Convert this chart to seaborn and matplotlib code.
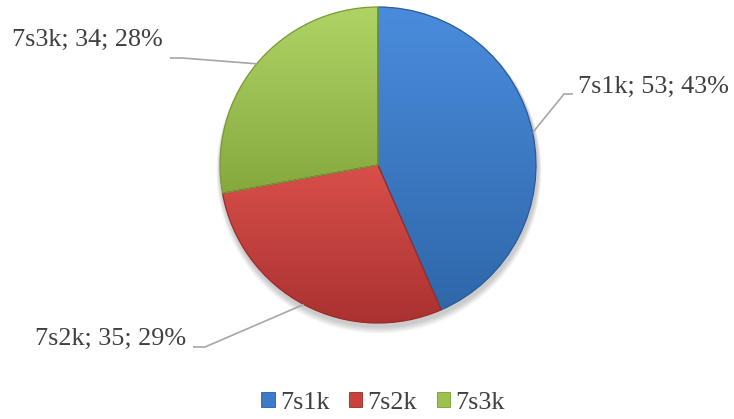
import numpy as np
import matplotlib
matplotlib.use("Agg")
import matplotlib.pyplot as plt
import matplotlib.colors as mcolors
from matplotlib.patches import Patch, Wedge
import seaborn as sns

# data
categories = ["7s1k", "7s2k", "7s3k"]
counts = [53, 35, 34]
percent_labels = ["43%", "29%", "28%"]

# styling
base_colors = ["#3C7BC8", "#CC403D", "#9CC14F"]
top_colors = ["#4A8CDC", "#D84F4B", "#AFD465"]
bottom_colors = ["#2F67AA", "#AA3230", "#86A93E"]
edge_colors = ["#2A5C99", "#9A2C2A", "#7A9A38"]

sns.set_style("white")
plt.rcParams["font.family"] = ["Liberation Serif", "DejaVu Serif"]

W, H = 734, 419
fig = plt.figure(figsize=(W / 100, H / 100), dpi=100)
ax = fig.add_axes([0, 0, 1, 1])

# pie geometry in pixel coords (y measured from the bottom)
cx, cy, r = 378, H - 165, 158

palette = sns.color_palette(base_colors)
wedges, _ = ax.pie(counts, colors=palette, startangle=90, counterclock=False,
                   center=(cx, cy), radius=r,
                   wedgeprops=dict(linewidth=0, zorder=1))
ax.set_aspect("equal")
ax.axis("off")

# soft shadow under the pie
for k in range(6):
    sh = plt.Circle((cx + 1, cy - 3 - k * 0.6), r + 1.5 + k * 0.6, color="black",
                    alpha=0.035, zorder=0, lw=0)
    ax.add_patch(sh)

# vertical gradient fill for each slice, clipped to the wedge
for w, top, bot, ec in zip(wedges, top_colors, bottom_colors, edge_colors):
    a = np.deg2rad(np.linspace(w.theta1, w.theta2, 200))
    xs = np.r_[cx, cx + r * np.cos(a)]
    ys = np.r_[cy, cy + r * np.sin(a)]
    x0, x1, y0, y1 = xs.min(), xs.max(), ys.min(), ys.max()
    n = 128
    t = np.linspace(0, 1, n)[:, None, None]
    c_top = np.array(mcolors.to_rgb(top))[None, None, :]
    c_bot = np.array(mcolors.to_rgb(bot))[None, None, :]
    grad = c_bot * (1 - t) + c_top * t
    im = ax.imshow(grad, extent=[x0, x1, y0, y1], origin="lower",
                   aspect="auto", zorder=2, interpolation="bilinear")
    im.set_clip_path(w)
    ax.add_patch(Wedge((cx, cy), r, w.theta1, w.theta2, fill=False,
                       edgecolor=ec, lw=0.9, zorder=3))

ax.set_xlim(0, W)
ax.set_ylim(0, H)

# labels with leader lines (text anchor, elbow, end near text)
label_pos = [(578, 87), (35, 339), (12, 40)]
elbow = [(564, 94), (205, 347), (182, 58)]
line_end = [(573, 94), (193, 347), (170, 58)]

theta = 90.0
total = float(sum(counts))
for i, (cat, val, pct) in enumerate(zip(categories, counts, percent_labels)):
    span = 360.0 * val / total
    mid = np.deg2rad(theta - span / 2)
    theta -= span
    px, py = cx + r * np.cos(mid), cy + r * np.sin(mid)
    ex, ey = elbow[i]
    lx, ly = line_end[i]
    ax.plot([px, ex, lx], [py, H - ey, H - ly], color="#A6A6A6", lw=1.2,
            zorder=4, solid_capstyle="butt")
    tx, ty = label_pos[i]
    ax.text(tx, H - ty, f"{cat}; {val}; {pct}", ha="left", va="center",
            fontsize=18.8, color="#404040")

handles = [Patch(facecolor=c, edgecolor=e, lw=0.6) for c, e in zip(base_colors, edge_colors)]
fig.legend(handles, categories, loc="center", bbox_to_anchor=(383 / W, 1 - 403 / H),
           ncol=3, frameon=False, fontsize=18.8, handlelength=0.52, handleheight=0.52,
           handletextpad=0.2, columnspacing=0.75, labelcolor="#404040",
           borderpad=0, borderaxespad=0)

fig.savefig("out.png", dpi=100)
